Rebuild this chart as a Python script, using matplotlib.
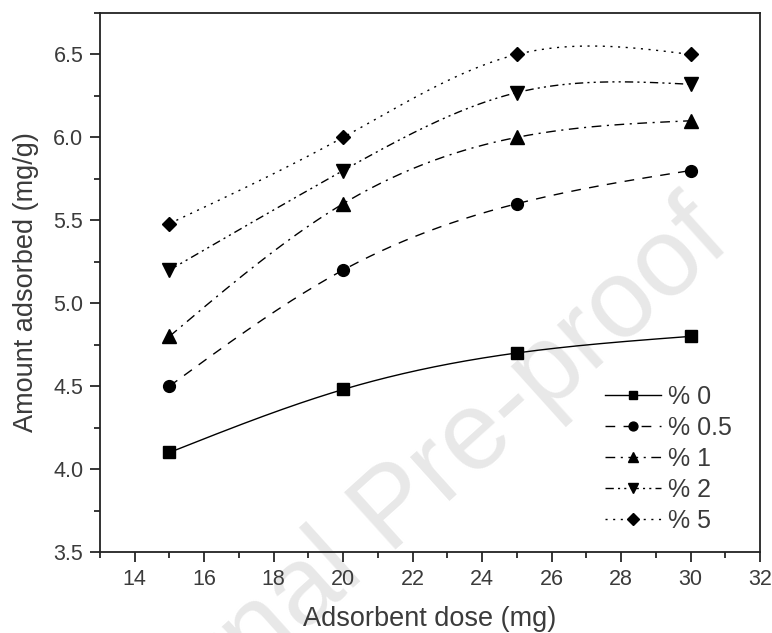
import numpy as np
import matplotlib
matplotlib.use("Agg")
import matplotlib.pyplot as plt
from matplotlib.lines import Line2D
from matplotlib.ticker import MultipleLocator

plt.rcParams['font.family'] = ['Liberation Sans', 'DejaVu Sans']

dose = [15, 20, 25, 30]
labels = ['% 0', '% 0.5', '% 1', '% 2', '% 5']
q_0 = [4.10, 4.48, 4.70, 4.80]
q_05 = [4.50, 5.20, 5.60, 5.80]
q_1 = [4.80, 5.60, 6.00, 6.10]
q_2 = [5.20, 5.80, 6.27, 6.32]
q_5 = [5.48, 6.00, 6.50, 6.50]

markers = ['s', 'o', '^', 'v', 'D']
sizes = [8.5, 8.5, 9.5, 9.5, 7.5]
dashes = [None, (7, 6), (7, 4, 1.5, 4), (6, 3, 1.5, 3, 1.5, 3), (1.5, 4)]
txt = '#3b3b3b'


def natural_spline(x, y, n=300):
    # plain natural cubic spline, same as the "Spline" connector in Origin
    x = np.asarray(x, float)
    y = np.asarray(y, float)
    h = np.diff(x)
    m = len(x)
    A = np.zeros((m, m))
    b = np.zeros(m)
    A[0, 0] = A[-1, -1] = 1
    for i in range(1, m - 1):
        A[i, i - 1] = h[i - 1]
        A[i, i] = 2 * (h[i - 1] + h[i])
        A[i, i + 1] = h[i]
        b[i] = 3 * ((y[i + 1] - y[i]) / h[i] - (y[i] - y[i - 1]) / h[i - 1])
    c = np.linalg.solve(A, b)
    bc = (y[1:] - y[:-1]) / h - h * (2 * c[:-1] + c[1:]) / 3
    d = (c[1:] - c[:-1]) / (3 * h)
    xs = np.linspace(x[0], x[-1], n)
    idx = np.clip(np.searchsorted(x, xs) - 1, 0, m - 2)
    dx = xs - x[idx]
    ys = y[idx] + bc[idx] * dx + c[idx] * dx ** 2 + d[idx] * dx ** 3
    return xs, ys


fig = plt.figure(figsize=(7.72, 6.33), dpi=100)
ax = fig.add_axes([0.1295, 0.128, 0.855, 0.8515])
ax.set_facecolor('none')

# faint watermark behind the axes
fig.text(0.951, 0.613, 'Journal Pre-proof', fontsize=80, color='#e8e8e8',
         rotation=42, rotation_mode='anchor', ha='right', va='baseline', zorder=-5)

handles = []
for vals, lab, mk, ms, ds in zip([q_0, q_05, q_1, q_2, q_5], labels, markers, sizes, dashes):
    xs, ys = natural_spline(dose, vals)
    ln, = ax.plot(xs, ys, color='black', lw=1.0)
    if ds is not None:
        ln.set_dashes(ds)
    ax.plot(dose, vals, ls='none', marker=mk, ms=ms, color='black', zorder=3)
    h = Line2D([], [], color='black', lw=1.0, marker=mk, ms=ms * 0.75)
    if ds is not None:
        h.set_dashes(ds)
    handles.append(h)

ax.set_xlim(13, 32)
ax.set_ylim(3.5, 6.75)
ax.xaxis.set_major_locator(MultipleLocator(2))
ax.xaxis.set_minor_locator(MultipleLocator(1))
ax.yaxis.set_major_locator(MultipleLocator(0.5))
ax.yaxis.set_minor_locator(MultipleLocator(0.25))
ax.set_xticks(np.arange(14, 33, 2))
ax.tick_params(which='both', direction='out', top=False, right=False, width=1.1, colors='black')
ax.tick_params(which='major', length=7, labelsize=15.5, labelcolor=txt, pad=5)
ax.tick_params(which='minor', length=4)
for sp in ax.spines.values():
    sp.set_linewidth(1.3)
    sp.set_color('#222222')

ax.set_xlabel('Adsorbent dose (mg)', fontsize=19.5, color=txt, labelpad=12)
ax.set_ylabel('Amount adsorbed (mg/g)', fontsize=19.5, color=txt, labelpad=10)

leg = ax.legend(handles, labels, loc='lower right', bbox_to_anchor=(0.958, 0.036),
                frameon=False, fontsize=18, handlelength=2.25, handletextpad=0.3,
                labelspacing=0.28, borderaxespad=0, borderpad=0)
for t in leg.get_texts():
    t.set_color(txt)

fig.savefig('out.png', dpi=100)
